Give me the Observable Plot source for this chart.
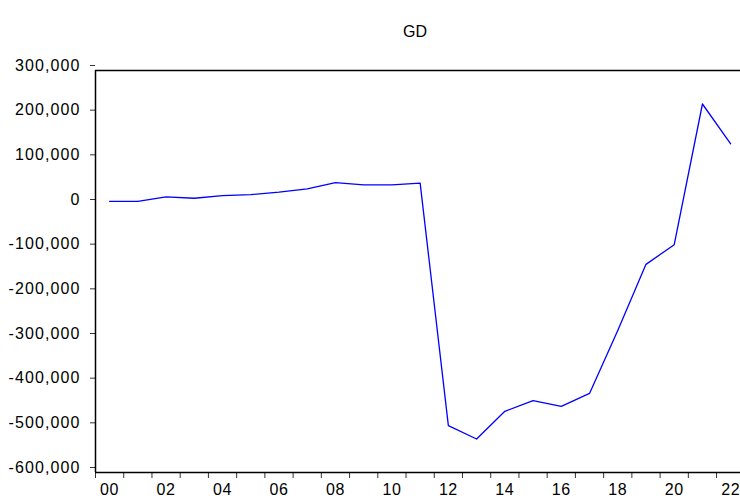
<!DOCTYPE html>
<html>
<head>
<meta charset="utf-8">
<script src="https://cdn.jsdelivr.net/npm/d3@7"></script>
<script src="https://cdn.jsdelivr.net/npm/@observablehq/plot@0.6"></script>
<style>
  html, body { margin: 0; padding: 0; background: #fff; }
  #wrap { position: relative; width: 740px; height: 503px; overflow: hidden; font-family: "Liberation Sans", Arial, sans-serif; }
  #title { position: absolute; left: 0; width: 830px; top: 23px; text-align: center; font-size: 16px; color: #000; }
  .yax text { letter-spacing: 1.1px; }
  .xax text { letter-spacing: 0.6px; }
</style>
</head>
<body>
<div id="wrap"><div id="title">GD</div></div>
<script>
const years = [2000,2001,2002,2003,2004,2005,2006,2007,2008,2009,2010,2011,2012,2013,2014,2015,2016,2017,2018,2019,2020,2021,2022];
const gd = [7000,7000,17000,14000,20000,22000,27500,35000,49000,44000,44000,48000,-495000,-525000,-463000,-439000,-452000,-423000,-282000,-134000,-90000,225000,136000];
const yTicks = [300000,200000,100000,0,-100000,-200000,-300000,-400000,-500000,-600000];
const xLabelYears = [2000,2002,2004,2006,2008,2010,2012,2014,2016,2018,2020,2022];

const data = years.map((y, i) => ({year: y + 0.5, value: gd[i]}));
const fmt = d3.format(",");

const chart = Plot.plot({
  width: 740,
  height: 503,
  marginTop: 70,
  marginBottom: 31,
  marginLeft: 95,
  marginRight: 0,
  style: {fontFamily: '"Liberation Sans", Arial, sans-serif', fontSize: "16px", color: "#000", background: "#fff"},
  x: {domain: [2000, 2023], range: [95, 95 + 23 * 28.23], axis: null},
  y: {domain: [-600000, 300000], axis: null},
  marks: [
    Plot.axisY(yTicks, {label: null, tickSize: 5, tickPadding: 10, tickFormat: d => fmt(d).replace("\u2212", "-"), dy: -5, fontSize: 16, stroke: "#333", className: "yax"}),
    Plot.axisX(d3.range(2000, 2024), {label: null, tickSize: 6, tickFormat: () => "", stroke: "#333"}),
    Plot.axisX(xLabelYears.map(d => d + 0.5), {label: null, tickSize: 0, tickPadding: 11, tickFormat: d => String(Math.floor(d) % 100).padStart(2, "0"), fontSize: 16, className: "xax"}),
    Plot.ruleX([2000], {stroke: "#000", strokeWidth: 1.5}),
    Plot.ruleY([300000], {stroke: "#000", strokeWidth: 1.5}),
    Plot.ruleY([-600000], {stroke: "#000", strokeWidth: 1.5}),
    Plot.line(data, {x: "year", y: "value", stroke: "#0000ff", strokeWidth: 1.3})
  ]
});
document.getElementById("wrap").appendChild(chart);
</script>
</body>
</html>
